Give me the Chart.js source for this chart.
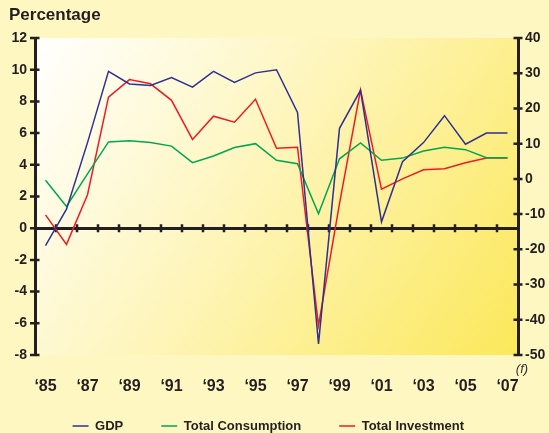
<!DOCTYPE html>
<html>
<head>
<meta charset="utf-8">
<script src="https://cdn.jsdelivr.net/npm/chart.js@4.4.1/dist/chart.umd.min.js"></script>
<style>
  html, body { margin: 0; padding: 0; background: #fff7c2; }
  #wrap { width: 549px; height: 433px; }
</style>
</head>
<body>
<div id="wrap"><canvas id="chart" width="549" height="433"></canvas></div>
<script>
const years = ["1985", "1986", "1987", "1988", "1989", "1990", "1991", "1992", "1993", "1994", "1995", "1996",
  "1997", "1998", "1999", "2000", "2001", "2002", "2003", "2004", "2005", "2006", "2007"];
const yearTicks = ["‘85", "‘87", "‘89", "‘91", "‘93", "‘95", "‘97", "‘99", "‘01", "‘03", "‘05", "‘07"];

// left axis (%)
const gdp = [-1.1, 1.2, 5.4, 9.9, 9.1, 9.0, 9.5, 8.9, 9.9, 9.2, 9.8, 10.0, 7.3, -7.3, 6.3, 8.7, 0.4, 4.2, 5.4, 7.1, 5.3, 6.0, 6.0];
// right axis (%)
const consumption = [-0.4, -7.8, 1.4, 10.5, 10.8, 10.3, 9.3, 4.6, 6.5, 8.9, 10.0, 5.3, 4.3, -9.9, 5.7, 10.2, 5.3, 5.9, 7.9, 9.0, 8.3, 6.0, 6.0];
const investment = [-10.2, -18.6, -4.5, 23.2, 28.2, 27.0, 22.3, 11.2, 17.8, 16.1, 22.6, 8.7, 9.0, -41.6, -7.0, 25.3, -2.9, 0.0, 2.6, 2.9, 4.6, 5.9, 5.9];

const ink = "#231f20";
const family = "'Liberation Sans', Arial, Helvetica, sans-serif";

// page colour + diagonal white-to-yellow wash behind the plot
const paper = {
  id: "paper",
  beforeDraw(chart) {
    const { ctx, chartArea: a, width, height } = chart;
    ctx.save();
    ctx.fillStyle = "#fff7c2";
    ctx.fillRect(0, 0, width, height);
    const g = ctx.createLinearGradient(a.left, a.top, a.right, a.bottom);
    g.addColorStop(0, "#ffffff");
    g.addColorStop(0.45, "#fef5bb");
    g.addColorStop(1, "#fbe85a");
    ctx.fillStyle = g;
    ctx.fillRect(a.left, a.top, a.right - a.left, a.bottom - a.top);
    ctx.restore();
  }
};

// nudge the legend row into place after layout
const legendNudge = {
  id: "legendNudge",
  afterLayout(chart) {
    const l = chart.legend;
    l.left -= 10.7; l.right -= 10.7;
    l.top -= 14.5; l.bottom -= 14.5;
  }
};

// tick marks that cross the axis lines, plus the forecast note
const tickMarks = {
  id: "tickMarks",
  beforeDatasetsDraw(chart) {
    const { ctx, scales } = chart;
    const x = scales.x, yL = scales.y, yR = scales.y1;
    ctx.save();
    ctx.strokeStyle = ink;
    ctx.lineWidth = 2.5;
    ctx.beginPath();
    yL.ticks.forEach((t) => {
      const p = yL.getPixelForValue(t.value);
      ctx.moveTo(yL.right - 5, p);
      ctx.lineTo(yL.right + 4.5, p);
    });
    yR.ticks.forEach((t) => {
      const p = yR.getPixelForValue(t.value);
      ctx.moveTo(yR.left - 4.5, p);
      ctx.lineTo(yR.left + 4.5, p);
    });
    const y0 = yL.getPixelForValue(0);
    for (let i = 1; i < years.length; i++) {
      const p = x.getPixelForValue(i - 0.5);
      ctx.moveTo(p, y0 - 4);
      ctx.lineTo(p, y0 + 4);
    }
    ctx.stroke();

    ctx.font = "italic 13px " + family;
    ctx.fillStyle = "#333";
    ctx.textAlign = "center";
    ctx.textBaseline = "middle";
    ctx.fillText("(f)", yR.left + 4, yR.bottom + 14);
    ctx.restore();
  }
};

const tickFont = { family: family, size: 14, weight: "bold" };

new Chart(document.getElementById("chart"), {
  type: "line",
  data: {
    labels: years,
    datasets: [
      {
        label: "GDP",
        data: gdp,
        yAxisID: "y",
        borderColor: "#2e3192",
        backgroundColor: "#2e3192",
        borderWidth: 1.5,
        pointRadius: 0,
        tension: 0
      },
      {
        label: "Total Consumption",
        data: consumption,
        yAxisID: "y1",
        borderColor: "#00a651",
        backgroundColor: "#00a651",
        borderWidth: 1.5,
        pointRadius: 0,
        tension: 0
      },
      {
        label: "Total Investment",
        data: investment,
        yAxisID: "y1",
        borderColor: "#ed1c24",
        backgroundColor: "#ed1c24",
        borderWidth: 1.5,
        pointRadius: 0,
        tension: 0
      }
    ]
  },
  options: {
    responsive: false,
    animation: false,
    layout: { padding: { left: 9, right: 0, top: 0, bottom: -24 } },
    plugins: {
      title: {
        display: true,
        text: "Percentage",
        align: "start",
        color: ink,
        font: { family: family, size: 17, weight: "bold" },
        padding: { top: 5.6, bottom: 12 }
      },
      legend: {
        position: "bottom",
        labels: {
          usePointStyle: true,
          pointStyle: "line",
          pointStyleWidth: 16,
          padding: 38,
          color: ink,
          font: { family: family, size: 13, weight: "bold" }
        }
      },
      tooltip: { enabled: false }
    },
    scales: {
      x: {
        type: "category",
        position: { y: 0 },
        offset: true,
        grid: { display: true, drawOnChartArea: false, drawTicks: false },
        border: { color: ink, width: 3 },
        ticks: { display: false }
      },
      xl: {
        type: "category",
        position: "bottom",
        offset: true,
        grid: { display: false, drawTicks: false },
        border: { display: false },
        ticks: {
          autoSkip: false,
          maxRotation: 0,
          padding: 22.1,
          color: ink,
          font: { family: family, size: 16, weight: "bold" },
          callback: (value, index) => (index % 2 === 0 ? yearTicks[index / 2] : "")
        },
        afterFit: (s) => { s.height = 41; }
      },
      y: {
        position: "left",
        min: -8,
        max: 12,
        ticks: { stepSize: 2, padding: 8, color: ink, font: tickFont },
        grid: { display: true, drawOnChartArea: false, drawTicks: false },
        border: { color: ink, width: 3 },
        afterFit: (s) => { s.width = 26; }
      },
      y1: {
        position: "right",
        min: -50,
        max: 40,
        ticks: { stepSize: 10, padding: 7, color: ink, font: tickFont },
        grid: { display: true, drawOnChartArea: false, drawTicks: false },
        border: { color: ink, width: 3 },
        afterFit: (s) => { s.width = 31; }
      }
    }
  },
  plugins: [paper, legendNudge, tickMarks]
});
</script>
</body>
</html>
